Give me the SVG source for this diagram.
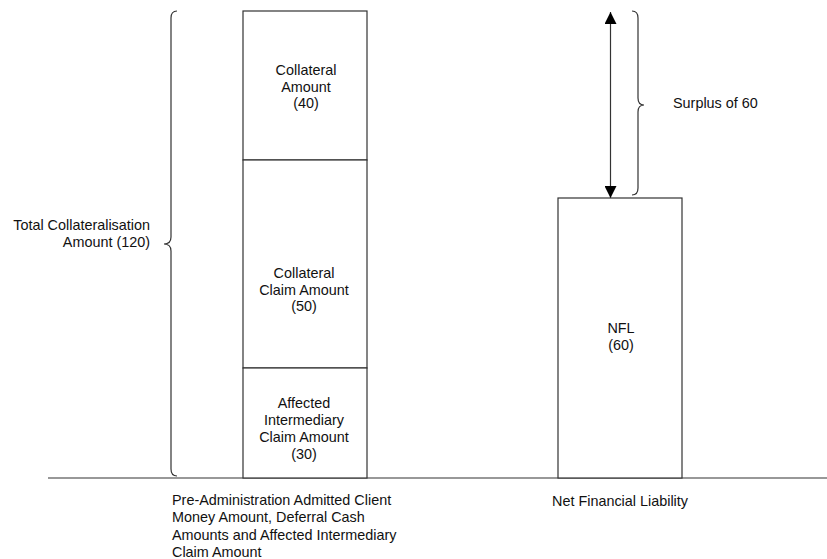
<svg xmlns="http://www.w3.org/2000/svg" width="827" height="559" viewBox="0 0 827 559">
<style>
.box{fill:#fff;stroke:#333;stroke-width:1.2}
.ln{fill:none;stroke:#333;stroke-width:1.2}
.t{font-family:"Liberation Sans",Arial,sans-serif;font-size:14.4px;fill:#111}
.c{text-anchor:middle}
.r{text-anchor:end}
</style>
<defs>
<marker id="ah" viewBox="0 0 12 12" refX="12" refY="6" markerWidth="12" markerHeight="12" markerUnits="userSpaceOnUse" orient="auto-start-reverse">
<path d="M0,0 L12,6 L0,12 z" fill="#000"/>
</marker>
</defs>
<rect width="827" height="559" fill="#fff"/>
<g id="connectors">
<line class="ln" x1="48" y1="478" x2="827" y2="478"/>
<line class="ln" x1="610.5" y1="12" x2="610.5" y2="198" stroke="#000" marker-start="url(#ah)" marker-end="url(#ah)"/>
<path class="ln" d="M177,11 Q171,11 171,18 L171,237 Q171,244 164,244 Q171,244 171,251 L171,469 Q171,476 177,476"/>
<path class="ln" d="M632,11 Q638,11 638,18 L638,98 Q638,105 644,105 Q638,105 638,112 L638,188 Q638,195 632,195"/>
</g>
<g id="collateral-amount">
<rect class="box" x="243" y="11" width="124" height="149"/>
<text class="t c" x="306" y="75">Collateral</text>
<text class="t c" x="306" y="91.7">Amount</text>
<text class="t c" x="306" y="108.4">(40)</text>
</g>
<g id="collateral-claim">
<rect class="box" x="243" y="160" width="124" height="208"/>
<text class="t c" x="304" y="278">Collateral</text>
<text class="t c" x="304" y="294.7">Claim Amount</text>
<text class="t c" x="304" y="311.4">(50)</text>
</g>
<g id="affected-intermediary">
<rect class="box" x="243" y="368" width="124" height="110"/>
<text class="t c" x="304" y="408">Affected</text>
<text class="t c" x="304" y="425">Intermediary</text>
<text class="t c" x="304" y="442">Claim Amount</text>
<text class="t c" x="304" y="459">(30)</text>
</g>
<g id="nfl">
<rect class="box" x="558" y="198" width="124" height="280"/>
<text class="t c" x="621" y="333">NFL</text>
<text class="t c" x="621" y="349.7">(60)</text>
</g>
<g id="total-label">
<text class="t r" x="150" y="230">Total Collateralisation</text>
<text class="t r" x="150" y="247">Amount (120)</text>
</g>
<g id="surplus-label">
<text class="t" x="673" y="108">Surplus of 60</text>
</g>
<g id="left-axis-label">
<text class="t" x="172" y="505">Pre-Administration Admitted Client</text>
<text class="t" x="172" y="522.3">Money Amount, Deferral Cash</text>
<text class="t" x="172" y="539.6">Amounts and Affected Intermediary</text>
<text class="t" x="172" y="557">Claim Amount</text>
</g>
<g id="right-axis-label">
<text class="t" x="552" y="506">Net Financial Liability</text>
</g>
</svg>
